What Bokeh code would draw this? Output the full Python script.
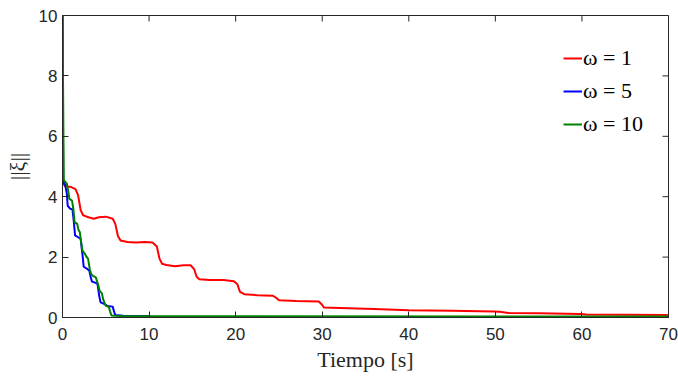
import math
from bokeh.plotting import figure
from bokeh.models import Legend, LegendItem, Range1d, FixedTicker
from bokeh.embed import file_html
from bokeh.resources import INLINE

# ---- data ----
red_t = [0, 0.05, 0.3, 1.0, 1.5, 1.8, 2.1, 2.4, 3.0, 3.6, 4.2, 5.0, 5.8, 6.1, 6.4, 6.7, 7.5, 8.5,
         9.5, 10.4, 10.9, 11.2, 11.5, 12.0, 13.0, 14.0, 14.8, 15.2, 15.5, 15.8, 17.0, 18.6, 19.8,
         20.2, 20.5, 21.0, 22.5, 24.3, 24.7, 25.0, 27.0, 29.6, 29.9, 30.2, 33, 36, 40, 45, 49.8,
         50.5, 51.5, 55, 59.8, 60.5, 65, 69.8, 70]
red_v = [10, 4.45, 4.35, 4.32, 4.25, 4.05, 3.55, 3.38, 3.32, 3.27, 3.32, 3.34, 3.27, 3.1, 2.7, 2.55,
         2.5, 2.48, 2.5, 2.48, 2.35, 1.95, 1.78, 1.74, 1.70, 1.73, 1.73, 1.6, 1.35, 1.27, 1.24, 1.24,
         1.2, 1.1, 0.85, 0.77, 0.74, 0.72, 0.65, 0.57, 0.55, 0.53, 0.45, 0.33, 0.31, 0.28, 0.24,
         0.22, 0.20, 0.19, 0.15, 0.14, 0.12, 0.10, 0.09, 0.08, 0.07]

blue_t = [0, 0.08, 0.3, 0.5, 0.6, 0.9, 1.15, 1.3, 1.45, 1.9, 2.1, 2.3, 2.45, 2.9, 3.1, 3.25, 3.4,
          3.9, 4.05, 4.25, 4.4, 4.8, 5.0, 5.2, 5.8, 5.95, 6.1, 7, 9.8, 10.2, 15, 70]
blue_v = [10, 4.5, 4.4, 4.1, 3.7, 3.6, 3.58, 3.2, 2.72, 2.64, 2.6, 2.1, 1.68, 1.6, 1.55, 1.35, 1.19,
          1.14, 1.1, 0.7, 0.5, 0.45, 0.42, 0.38, 0.36, 0.2, 0.08, 0.06, 0.05, 0.02, 0.01, 0.01]

green_t = [0, 0.15, 0.5, 0.65, 0.8, 1.1, 1.25, 1.4, 1.7, 1.85, 2.0, 2.15, 2.3, 2.6, 2.75, 2.95,
           3.15, 3.3, 3.5, 3.85, 4.1, 4.3, 4.55, 4.7, 4.9, 5.05, 5.35, 5.5, 5.65, 7, 70]
green_v = [10, 4.55, 4.43, 4.2, 3.93, 3.87, 3.6, 3.16, 3.1, 2.9, 2.83, 2.5, 2.22, 2.1, 2.02, 1.95,
           1.6, 1.45, 1.38, 1.33, 1.1, 0.88, 0.8, 0.6, 0.45, 0.38, 0.35, 0.2, 0.07, 0.04, 0.03]

labels = ["ω = 1", "ω = 5", "ω = 10"]
colors = ["#ff0000", "#0000ff", "#008000"]
x_ticks = [0, 10, 20, 30, 40, 50, 60, 70]
y_ticks = [0, 2, 4, 6, 8, 10]
X_MAX = 70
Y_MAX = 10

AX = "#262626"
SANS = "Liberation Sans"
SERIF = "Liberation Serif"

p = figure(width=678, height=381, output_backend="svg", toolbar_location=None,
           x_range=Range1d(0, X_MAX), y_range=Range1d(0, Y_MAX),
           min_border_left=62, min_border_right=10, min_border_top=15, min_border_bottom=64,
           x_axis_label="Tiempo [s]", y_axis_label="||ξ||")
p.grid.visible = False
p.outline_line_color = AX
p.outline_line_width = 1
p.background_fill_color = "white"
p.border_fill_color = "white"

renderers = []
for t, v, c in [(red_t, red_v, colors[0]), (blue_t, blue_v, colors[1]), (green_t, green_v, colors[2])]:
    renderers.append(p.line(t, v, line_color=c, line_width=2))

for ax, ticks in [(p.xaxis[0], x_ticks), (p.yaxis[0], y_ticks)]:
    ax.ticker = FixedTicker(ticks=ticks)
    ax.major_tick_in = 6
    ax.major_tick_out = 0
    ax.minor_tick_in = 0
    ax.minor_tick_out = 0
    ax.axis_line_color = AX
    ax.major_tick_line_color = AX
    ax.major_label_text_font = SANS
    ax.major_label_text_font_size = "17px"
    ax.major_label_text_color = AX
    ax.axis_label_text_font = SERIF
    ax.axis_label_text_font_style = "normal"
    ax.axis_label_text_font_size = "22px"
    ax.axis_label_text_color = AX

p.xaxis[0].major_label_standoff = 10
p.xaxis[0].axis_label_standoff = 4
p.yaxis[0].major_label_standoff = 5
p.yaxis[0].axis_label_standoff = 6

# inward ticks on the top and right edges of the box
p.ray(x=x_ticks, y=[Y_MAX] * len(x_ticks), length=6, length_units="screen",
      angle=-math.pi / 2, line_color=AX, line_width=1)
p.ray(x=[X_MAX] * len(y_ticks), y=y_ticks, length=6, length_units="screen",
      angle=math.pi, line_color=AX, line_width=1)

legend = Legend(items=[LegendItem(label=labels[i], renderers=[renderers[i]]) for i in range(3)],
                location=(499, 178))
legend.label_text_font = SERIF
legend.label_text_font_size = "22px"
legend.label_text_color = "#000000"
legend.glyph_width = 19
legend.label_standoff = 1
legend.spacing = 7
legend.border_line_alpha = 0
legend.background_fill_alpha = 0
legend.margin = 0
legend.padding = 2
p.add_layout(legend, "center")

open("out.html", "w").write(file_html(p, INLINE))
